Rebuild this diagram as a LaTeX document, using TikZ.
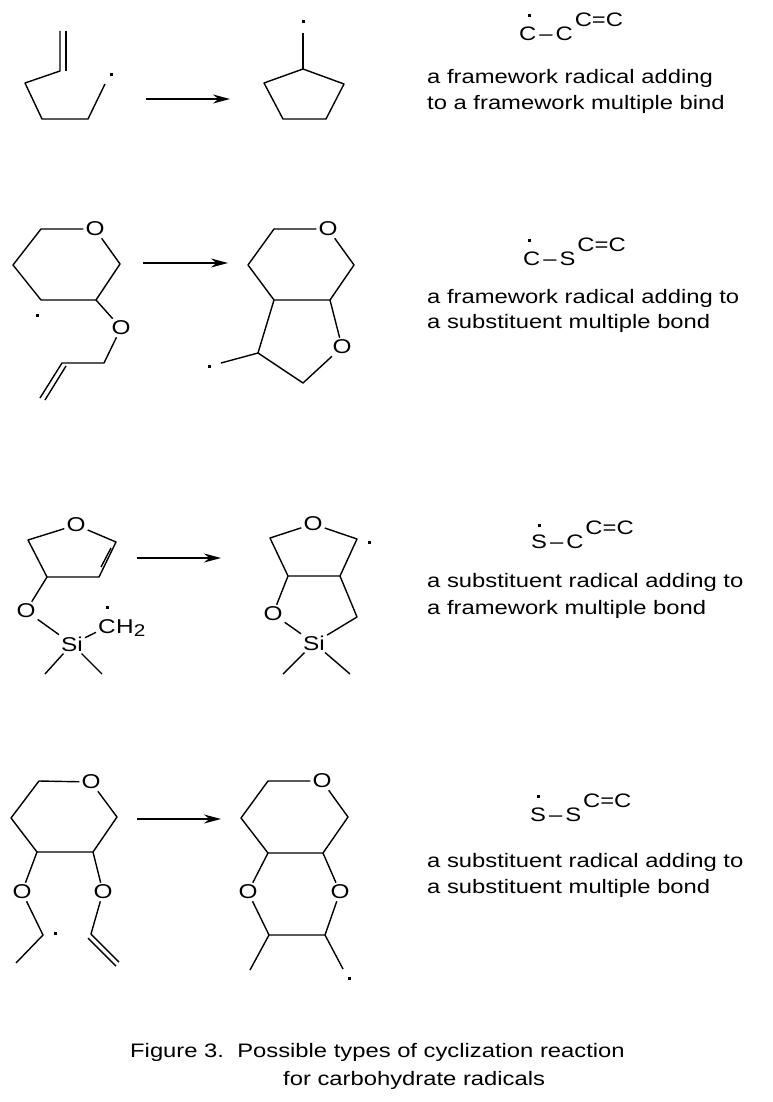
\documentclass[tikz,border=0pt]{standalone}
\usepackage{fontspec}
\setmainfont{Liberation Sans}[FakeStretch=1.22]
\usepackage{tikz}
\usetikzlibrary{arrows.meta,positioning}
\newcommand{\txtfont}{\fontsize{19.5pt}{26pt}\selectfont}
\newcommand{\atomfont}{\fontsize{20pt}{24pt}\selectfont}
\newcommand{\radpair}[2]{#1\kern3pt--\kern3pt#2\kern2pt\raisebox{14pt}{C=C}}
\tikzset{
  bond/.style={draw=black, line width=1.4pt, line join=round},
  arr/.style={draw=black, line width=1.4pt, -{Stealth[length=17pt,width=9pt]}},
  atom/.style={font=\atomfont, inner sep=2pt},
  rad/.style={fill=black, inner sep=0pt, minimum size=3pt},
  lab/.style={font=\txtfont, anchor=base west, inner sep=0pt},
}

\begin{document}
\begin{tikzpicture}[x=1pt,y=-1pt]
  \useasboundingbox[fill=white] (0,0) rectangle (772,1102);

  \coordinate (A1) at (60,71);  \coordinate (A2) at (25,83);  \coordinate (A3) at (42,119);
  \coordinate (A4) at (88,119); \coordinate (A5) at (105,84); \coordinate (A6) at (60,31);
  \coordinate (A7) at (66,31);  \coordinate (A8) at (66,71);
  \draw[bond] (A5) -- (A4) -- (A3) -- (A2) -- (A1) -- (A6);
  \draw[bond] (A8) -- (A7);
  \node[rad] (Ar) at (111,75) {};

  \coordinate (B1) at (303,69);  \coordinate (B2) at (344,84); \coordinate (B3) at (326,119);
  \coordinate (B4) at (283,119); \coordinate (B5) at (264,83); \coordinate (B6) at (303,33);
  \draw[bond] (B1) -- (B2) -- (B3) -- (B4) -- (B5) -- cycle;
  \draw[bond] (B1) -- (B6);
  \node[rad] (Br) at (303,22) {};

  \coordinate (C1) at (41,229);  \coordinate (C3) at (120,264); \coordinate (C4) at (96,300);
  \coordinate (C5) at (41,300);  \coordinate (C6) at (13,265);  \coordinate (C7) at (104,363);
  \coordinate (C8) at (62,363);  \coordinate (C9) at (40,398);  \coordinate (C10) at (66,366);
  \coordinate (C11) at (45,400);
  \node[atom] (CO1) at (95,229) {O};
  \node[atom] (CO2) at (121,328) {O};
  \draw[bond] (CO1) -- (C1) -- (C6) -- (C5) -- (C4) -- (C3) -- (CO1);
  \draw[bond] (C4) -- (CO2) -- (C7) -- (C8) -- (C9);
  \draw[bond] (C10) -- (C11);
  \node[rad] (Cr) at (37,315) {};

  \coordinate (D1) at (274,229); \coordinate (D3) at (354,265); \coordinate (D4) at (330,300);
  \coordinate (D5) at (274,300); \coordinate (D6) at (248,265); \coordinate (D7) at (303,383);
  \coordinate (D8) at (258,353); \coordinate (D9) at (221,363);
  \node[atom] (DO1) at (328,229) {O};
  \node[atom] (DO2) at (342,347) {O};
  \draw[bond] (DO1) -- (D1) -- (D6) -- (D5) -- (D4) -- (D3) -- (DO1);
  \draw[bond] (D4) -- (DO2) -- (D7) -- (D8) -- (D5);
  \draw[bond] (D8) -- (D9);
  \node[rad] (Dr) at (209,366) {};

  \coordinate (E1) at (28,540);  \coordinate (E2) at (47,577);  \coordinate (E3) at (99,577);
  \coordinate (E4) at (116,542); \coordinate (E5) at (101,567); \coordinate (E6) at (111,548);
  \coordinate (E7) at (45,674);  \coordinate (E8) at (102,674);
  \node[atom] (EO1) at (76,525) {O};
  \node[atom] (EO2) at (26,611) {O};
  \node[atom] (ESi) at (72,644) {Si};
  \node[atom] (EC) at (107,627) {C};
  \node[atom, inner sep=0pt, base right=-2pt of EC] (EH) {H\raisebox{-3pt}{\fontsize{17pt}{17pt}\selectfont 2}};
  \draw[bond] (EO1) -- (E1) -- (E2) -- (E3) -- (E4) -- (EO1);
  \draw[bond] (E5) -- (E6);
  \draw[bond] (E2) -- (EO2) -- (ESi) -- (EC);
  \draw[bond] (ESi) -- (E7);
  \draw[bond] (ESi) -- (E8);
  \node[rad] (Er) at (107,607) {};

  \coordinate (F1) at (270,538); \coordinate (F2) at (357,539); \coordinate (F3) at (288,576);
  \coordinate (F4) at (340,576); \coordinate (F5) at (357,617); \coordinate (F6) at (283,674);
  \coordinate (F7) at (350,674);
  \node[atom] (FO1) at (313,524) {O};
  \node[atom] (FO2) at (273,614) {O};
  \node[atom] (FSi) at (314,643) {Si};
  \draw[bond] (FO1) -- (F1) -- (F3) -- (F4) -- (F2) -- (FO1);
  \draw[bond] (F3) -- (FO2) -- (FSi) -- (F5) -- (F4);
  \draw[bond] (FSi) -- (F6);
  \draw[bond] (FSi) -- (F7);
  \node[rad] (Fr) at (369,542) {};

  \coordinate (G1) at (39,781);  \coordinate (G3) at (117,817); \coordinate (G4) at (93,852);
  \coordinate (G5) at (37,852);  \coordinate (G6) at (11,818);  \coordinate (G7) at (43,935);
  \coordinate (G8) at (16,963);  \coordinate (G9) at (91,934);  \coordinate (G10) at (119,962);
  \coordinate (G11) at (88,938); \coordinate (G12) at (116,966);
  \node[atom] (GO1) at (91,782) {O};
  \node[atom] (GO2) at (22,892) {O};
  \node[atom] (GO3) at (103,892) {O};
  \draw[bond] (GO1) -- (G1) -- (G6) -- (G5) -- (G4) -- (G3) -- (GO1);
  \draw[bond] (G5) -- (GO2) -- (G7) -- (G8);
  \draw[bond] (G4) -- (GO3) -- (G9) -- (G10);
  \draw[bond] (G11) -- (G12);
  \node[rad] (Gr) at (55,933) {};

  \coordinate (H1) at (268,781); \coordinate (H3) at (348,817); \coordinate (H4) at (323,853);
  \coordinate (H5) at (268,853); \coordinate (H6) at (241,818); \coordinate (H7) at (269,935);
  \coordinate (H8) at (325,935); \coordinate (H9) at (250,970); \coordinate (H10) at (343,969);
  \node[atom] (HO1) at (322,781) {O};
  \node[atom] (HO2) at (248,892) {O};
  \node[atom] (HO3) at (340,892) {O};
  \draw[bond] (HO1) -- (H1) -- (H6) -- (H5) -- (H4) -- (H3) -- (HO1);
  \draw[bond] (H5) -- (HO2) -- (H7) -- (H8) -- (HO3) -- (H4);
  \draw[bond] (H7) -- (H9);
  \draw[bond] (H8) -- (H10);
  \node[rad] (Hr) at (349,978) {};

  \coordinate (P1a) at (146,99);  \coordinate (P1b) at (230,99);
  \coordinate (P2a) at (143,263); \coordinate (P2b) at (228,263);
  \coordinate (P3a) at (137,558); \coordinate (P3b) at (221,558);
  \coordinate (P4a) at (137,819); \coordinate (P4b) at (221,819);
  \draw[arr] (P1a) -- (P1b);
  \draw[arr] (P2a) -- (P2b);
  \draw[arr] (P3a) -- (P3b);
  \draw[arr] (P4a) -- (P4b);

  \node[lab] (R1) at (519,41) {\radpair{C}{C}};
  \node[lab] (R2) at (523,265) {\radpair{C}{S}};
  \node[lab] (R3) at (531,548) {\radpair{S}{C}};
  \node[lab] (R4) at (530,821) {\radpair{S}{S}};
  \node[rad] (R1r) at (529,16) {};
  \node[rad] (R2r) at (529,240) {};
  \node[rad] (R3r) at (539,525) {};
  \node[rad] (R4r) at (538,796) {};

  \node[lab] (T1a) at (427,84)  {a framework radical adding};
  \node[lab] (T1b) at (427,110) {to a framework multiple bind};
  \node[lab] (T2a) at (427,303) {a framework radical adding to};
  \node[lab] (T2b) at (427,328) {a substituent multiple bond};
  \node[lab] (T3a) at (427,587) {a substituent radical adding to};
  \node[lab] (T3b) at (427,614) {a framework multiple bond};
  \node[lab] (T4a) at (427,867) {a substituent radical adding to};
  \node[lab] (T4b) at (427,893) {a substituent multiple bond};

  \node[lab] (Cap1) at (130,1057) {Figure 3.\ \ Possible types of cyclization reaction};
  \node[lab] (Cap2) at (283,1085) {for carbohydrate radicals};
\end{tikzpicture}
\end{document}
